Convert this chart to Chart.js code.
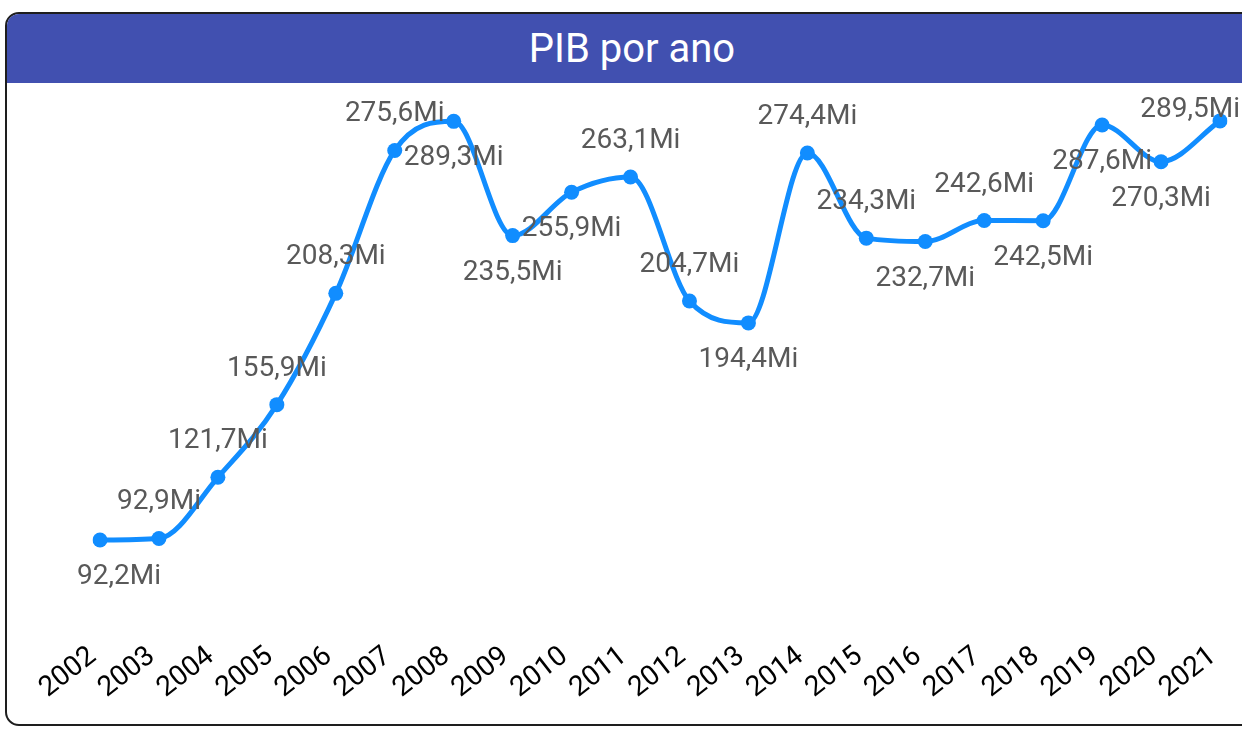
<!DOCTYPE html>
<html lang="pt">
<head>
  <meta charset="UTF-8" />
  <title>PIB por ano</title>
  <script src="https://cdn.jsdelivr.net/npm/chart.js"></script>
  <style>
    body { margin: 0; background: #fff; font-family: Roboto, sans-serif; }
    #card {
      position: absolute; left: 5px; top: 12px;
      width: 1250px; height: 710px;
      border: 2px solid #1e1e1e; border-radius: 14px;
      overflow: hidden; background: #fff;
    }
    #title {
      height: 69px; line-height: 69px;
      background: #4150b0; color: #fff;
      text-align: center; font-size: 40px;
    }
    #wrap { position: relative; width: 1240px; height: 640px; }
  </style>
</head>
<body>
  <div id="card">
    <div id="title">PIB por ano</div>
    <div id="wrap"><canvas id="pibChart"></canvas></div>
  </div>

  <script>
    // dados (em milhões)
    const years = ["2002", "2003", "2004", "2005", "2006", "2007", "2008", "2009", "2010", "2011",
                   "2012", "2013", "2014", "2015", "2016", "2017", "2018", "2019", "2020", "2021"];
    const pib = [92.2, 92.9, 121.7, 155.9, 208.3, 275.6, 289.3, 235.5, 255.9, 263.1,
                 204.7, 194.4, 274.4, 234.3, 232.7, 242.6, 242.5, 287.6, 270.3, 289.5];
    // de que lado do ponto fica o rótulo
    const labelSide = ["below", "above", "above", "above", "above", "above", "below", "below", "below", "above",
                       "above", "below", "above", "above", "below", "above", "below", "below", "below", "above"];

    function fmt(v) {
      return v.toFixed(1).replace(".", ",") + "Mi";
    }

    const pointLabels = {
      id: "pointLabels",
      afterDatasetsDraw(chart) {
        const ctx = chart.ctx;
        const area = chart.chartArea;
        const meta = chart.getDatasetMeta(0);
        ctx.save();
        ctx.font = "28px Roboto";
        ctx.fillStyle = "#595959";
        ctx.textAlign = "center";
        ctx.textBaseline = "middle";
        meta.data.forEach((pt, i) => {
          const text = fmt(pib[i]);
          const w = ctx.measureText(text).width;
          let x = pt.x;
          let y = pt.y + (labelSide[i] === "below" ? 37 : -36);
          x = Math.max(70 + w / 2, Math.min(1233 - w / 2, x));
          y = Math.max(area.top + 15, y);
          ctx.fillText(text, x, y);
        });
        ctx.restore();
      }
    };

    new Chart(document.getElementById("pibChart"), {
      type: "line",
      data: {
        labels: years,
        datasets: [{
          label: "PIB",
          data: pib,
          borderColor: "#118dff",
          backgroundColor: "#118dff",
          borderWidth: 5,
          pointRadius: 7.5,
          pointBorderWidth: 0,
          cubicInterpolationMode: "monotone"
        }]
      },
      options: {
        responsive: true,
        maintainAspectRatio: false,
        animation: false,
        layout: { padding: { left: 93, right: 27, top: 12, bottom: 0 } },
        plugins: { legend: { display: false }, tooltip: { enabled: false } },
        scales: {
          x: {
            offset: false,
            grid: { display: false },
            border: { display: false },
            ticks: {
              autoSkip: false,
              minRotation: 38,
              maxRotation: 38,
              padding: 12,
              labelOffset: -7,
              color: "#000",
              font: { family: "Roboto", size: 28 }
            },
            afterFit(scale) {
              scale.paddingLeft = 0;
              scale.paddingRight = 0;
              scale.height = 103;
            }
          },
          y: {
            display: false,
            min: 54.5,
            max: 301.7
          }
        }
      },
      plugins: [pointLabels]
    });
  </script>
</body>
</html>
